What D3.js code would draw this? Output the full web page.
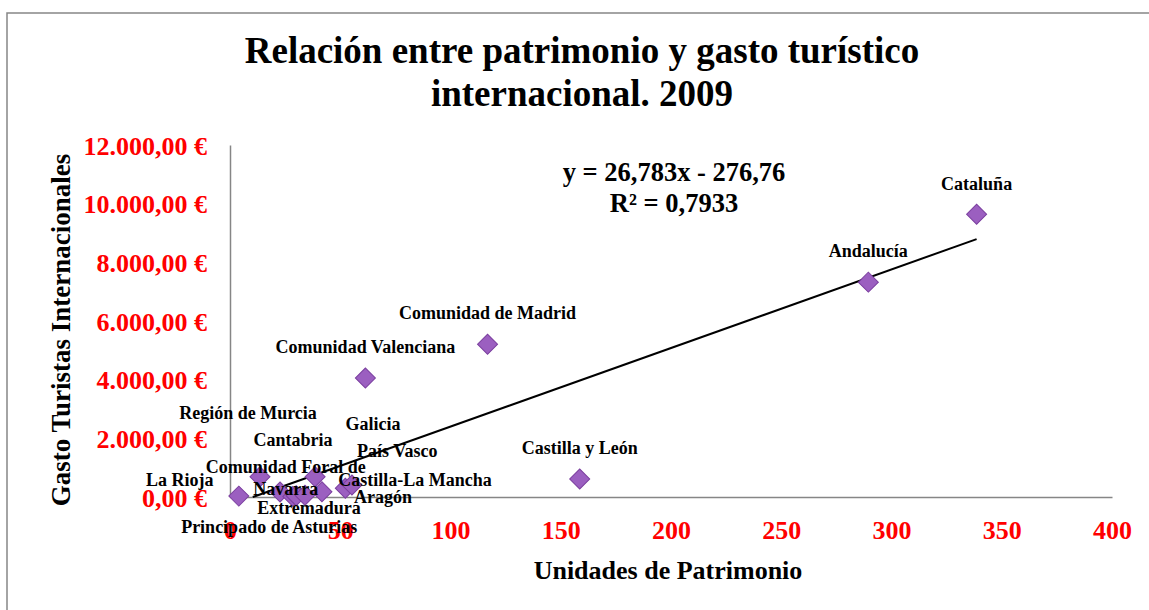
<!DOCTYPE html>
<html lang="es">
<head>
<meta charset="UTF-8">
<title>Patrimonio y gasto turístico</title>
<style>
  body { margin: 0; background: #fff; }
  text { font-family: "Liberation Serif", "Times New Roman", serif; font-weight: bold; }
</style>
</head>
<body>
<svg width="1149" height="610"></svg>
<script src="https://d3js.org/d3.v7.min.js"></script>
<script>
// data
const regions = ['Cataluña', 'Andalucía', 'Comunidad de Madrid', 'Comunidad Valenciana', 'Castilla y León',
  'La Rioja', 'Región de Murcia', 'Cantabria', 'Comunidad Foral de Navarra', 'Principado de Asturias',
  'Extremadura', 'Galicia', 'Castilla-La Mancha', 'País Vasco', 'Aragón'];
const patrimonio = [338.6, 289.5, 116.8, 61.4, 158.6, 4, 13.6, 22.7, 28.5, 30, 34, 38.6, 41.7, 52.3, 55.3];
const gasto = [9640, 7325, 5210, 4055, 615, 30, 690, 170, 20, 40, 60, 690, 180, 300, 410];
const xTicks = [0, 50, 100, 150, 200, 250, 300, 350, 400];
const yTicks = [0, 2000, 4000, 6000, 8000, 10000, 12000];
const slope = 26.783, intercept = -276.76, r2 = '0,7933';

// label placement relative to the marker (dx, dy), default is above
const labelPos = {
  'La Rioja': [-59, -16],
  'Región de Murcia': [-12, -64],
  'Cantabria': [13, -52],
  'Comunidad Foral de Navarra': [-7, -30],
  'Principado de Asturias': [-27, 31],
  'Extremadura': [4, 12],
  'Galicia': [58, -53],
  'Castilla-La Mancha': [93, -12],
  'País Vasco': [52, -38],
  'Aragón': [31, 12]
};

const svg = d3.select('svg');
const margin = {left: 230, right: 37, top: 145, bottom: 113};
const width = 1149 - margin.left - margin.right;
const height = 610 - margin.top - margin.bottom;

svg.append('rect')
  .attr('x', 7).attr('y', 13).attr('width', 1160).attr('height', 620)
  .attr('fill', '#fff').attr('stroke', '#868686').attr('stroke-width', 1.5);

svg.append('text').attr('x', 582).attr('y', 50).attr('dy', '0.35em')
  .attr('text-anchor', 'middle').attr('font-size', 37)
  .text('Relación entre patrimonio y gasto turístico');
svg.append('text').attr('x', 582).attr('y', 93).attr('dy', '0.35em')
  .attr('text-anchor', 'middle').attr('font-size', 37)
  .text('internacional. 2009');

const g = svg.append('g').attr('transform', `translate(${margin.left},${margin.top})`);
const x = d3.scaleLinear().domain([0, 400]).range([0, width]);
const y = d3.scaleLinear().domain([0, 12000]).range([height, 0]);

const fmt = d => d3.format(',.2f')(d).replace(/,/g, 'X').replace('.', ',').replace(/X/g, '.') + ' €';

const yAxis = g.append('g').call(d3.axisLeft(y).tickValues(yTicks).tickSize(0).tickPadding(23).tickFormat(fmt));
const xAxis = g.append('g').attr('transform', `translate(0,${height})`)
  .call(d3.axisBottom(x).tickValues(xTicks).tickSize(0));
[xAxis, yAxis].forEach(a => {
  a.select('.domain').attr('stroke', '#868686').attr('stroke-width', 1.5);
  a.selectAll('text').attr('fill', '#ff0000').attr('font-size', 26)
    .attr('font-family', '"Liberation Serif", serif').attr('font-weight', 'bold');
});
yAxis.selectAll('text').attr('dy', '0.35em');
xAxis.selectAll('text').attr('y', 33).attr('dy', '0.35em');

svg.append('text').attr('x', 668).attr('y', 570).attr('dy', '0.35em')
  .attr('text-anchor', 'middle').attr('font-size', 26).text('Unidades de Patrimonio');
svg.append('text').attr('transform', 'translate(61,330) rotate(-90)').attr('dy', '0.35em')
  .attr('text-anchor', 'middle').attr('font-size', 27).text('Gasto Turistas Internacionales');

// linear trendline, clipped at y = 0
const x0 = -intercept / slope, x1 = d3.max(patrimonio);
g.append('line')
  .attr('x1', x(x0)).attr('y1', y(slope * x0 + intercept))
  .attr('x2', x(x1)).attr('y2', y(slope * x1 + intercept))
  .attr('stroke', '#000').attr('stroke-width', 2);

const points = regions.map((name, i) => ({name, px: patrimonio[i], gy: gasto[i]}));

g.selectAll('path.pt').data(points).join('path')
  .attr('class', 'pt')
  .attr('d', d3.symbol(d3.symbolSquare, 200)())
  .attr('transform', d => `translate(${x(d.px)},${y(d.gy)}) rotate(45)`)
  .attr('fill', '#9b5fc0').attr('stroke', '#7b3f9f').attr('stroke-width', 1);

const labels = g.selectAll('text.lbl').data(points).join('text')
  .attr('class', 'lbl')
  .attr('font-size', 18)
  .attr('text-anchor', 'middle')
  .attr('transform', d => {
    const [dx, dy] = labelPos[d.name] || [0, -31];
    return `translate(${x(d.px) + dx},${y(d.gy) + dy})`;
  });
labels.each(function(d) {
  const t = d3.select(this);
  if (d.name === 'Comunidad Foral de Navarra') {
    t.append('tspan').attr('x', 0).attr('dy', '0.35em').text('Comunidad Foral de');
    t.append('tspan').attr('x', 0).attr('dy', 22).text('Navarra');
  } else {
    t.attr('dy', '0.35em').text(d.name);
  }
});

svg.append('text').attr('x', 674).attr('y', 172).attr('dy', '0.35em')
  .attr('text-anchor', 'middle').attr('font-size', 26.5)
  .text(`y = ${String(slope).replace('.', ',')}x - ${String(-intercept).replace('.', ',')}`);
svg.append('text').attr('x', 674).attr('y', 203).attr('dy', '0.35em')
  .attr('text-anchor', 'middle').attr('font-size', 26.5)
  .text(`R² = ${r2}`);
</script>
</body>
</html>
